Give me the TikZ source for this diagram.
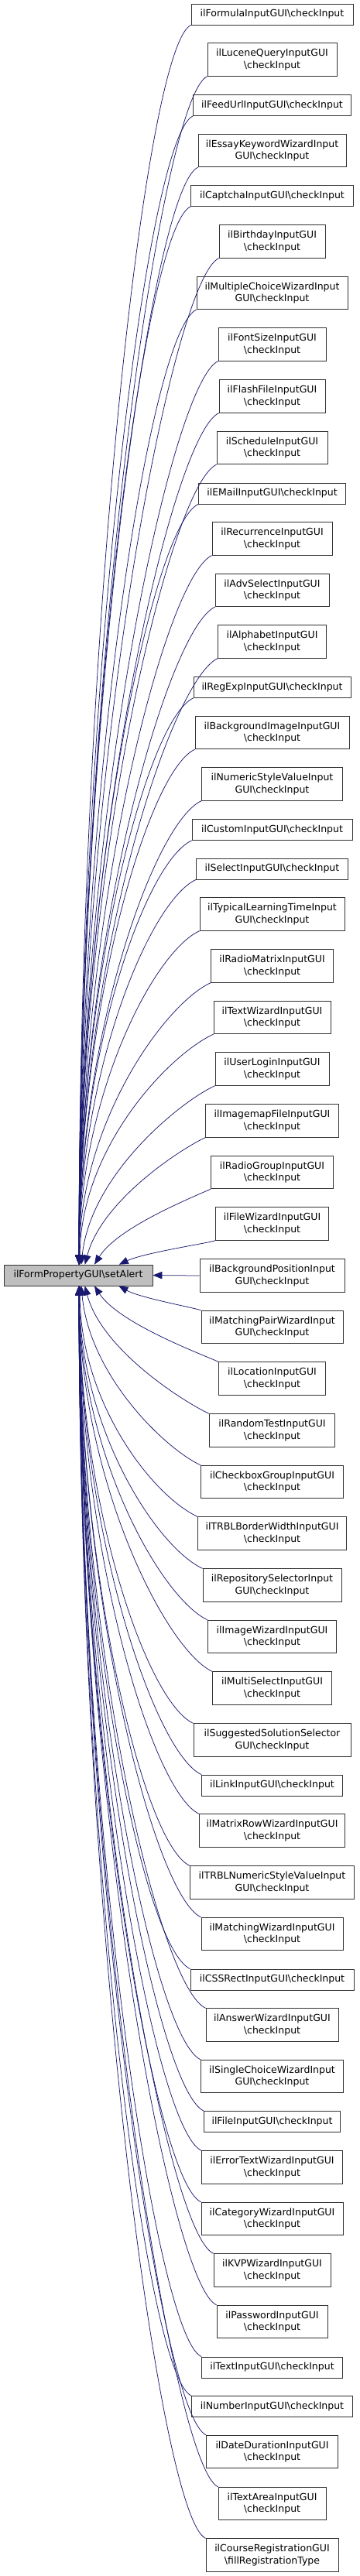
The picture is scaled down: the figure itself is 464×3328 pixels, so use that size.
\documentclass[tikz,border=0pt]{standalone}
\usepackage{fontspec}
\setmainfont{DejaVu Sans}
\usetikzlibrary{arrows.meta,calc}
\definecolor{mblue}{HTML}{191970}
\definecolor{bord}{HTML}{333333}
\definecolor{mainfill}{HTML}{BFBFBF}
\newcommand\bsl{\textbackslash}
\begin{document}
\begin{tikzpicture}[x=1pt,y=1pt,
  box/.style={draw=bord, line width=0.8pt, fill=white, inner sep=0pt, align=center,
    font=\fontsize{12.5}{15.7}\selectfont, minimum height=27pt},
  box2/.style={box, minimum height=42.5pt},
  edge/.style={draw=mblue, line width=0.75pt, -{Triangle[length=12pt,width=9.5pt]}}]
\fill[white] (0,0) rectangle (464,-3328);
\useasboundingbox (0,0) rectangle (464,-3328);

\node[box, fill=mainfill, minimum width=192pt] (main) at (101,-1647.5) {ilFormPropertyGUI\bsl setAlert};

\node[box,  minimum width=209pt] (formula) at (351.5,-18.5) {ilFormulaInputGUI\bsl checkInput};
\node[box2, minimum width=167pt] (lucene) at (351.5,-77) {ilLuceneQueryInputGUI\\\bsl checkInput};
\node[box,  minimum width=204pt] (feedurl) at (351.5,-136) {ilFeedUrlInputGUI\bsl checkInput};
\node[box2, minimum width=191pt] (essay) at (351.5,-194.5) {ilEssayKeywordWizardInput\\GUI\bsl checkInput};
\node[box,  minimum width=210pt] (captcha) at (351.5,-253) {ilCaptchaInputGUI\bsl checkInput};
\node[box2, minimum width=137pt] (birthday) at (351.5,-312) {ilBirthdayInputGUI\\\bsl checkInput};
\node[box2, minimum width=195pt] (mcwizard) at (351.5,-378.5) {ilMultipleChoiceWizardInput\\GUI\bsl checkInput};
\node[box2, minimum width=139pt] (fontsize) at (351.5,-445) {ilFontSizeInputGUI\\\bsl checkInput};
\node[box2, minimum width=137pt] (flash) at (351.5,-512) {ilFlashFileInputGUI\\\bsl checkInput};
\node[box2, minimum width=143pt] (schedule) at (351.5,-578.5) {ilScheduleInputGUI\\\bsl checkInput};
\node[box,  minimum width=190pt] (email) at (351.5,-637.5) {ilEMailInputGUI\bsl checkInput};
\node[box2, minimum width=155pt] (recurrence) at (351.5,-696) {ilRecurrenceInputGUI\\\bsl checkInput};
\node[box2, minimum width=147pt] (advselect) at (351.5,-762.5) {ilAdvSelectInputGUI\\\bsl checkInput};
\node[box2, minimum width=140pt] (alphabet) at (351.5,-829) {ilAlphabetInputGUI\\\bsl checkInput};
\node[box,  minimum width=203pt] (regexp) at (351.5,-888) {ilRegExpInputGUI\bsl checkInput};
\node[box2, minimum width=199pt] (bgimage) at (351.5,-946.5) {ilBackgroundImageInputGUI\\\bsl checkInput};
\node[box2, minimum width=182pt] (numstyle) at (351.5,-1013) {ilNumericStyleValueInput\\GUI\bsl checkInput};
\node[box,  minimum width=207pt] (custom) at (351.5,-1072) {ilCustomInputGUI\bsl checkInput};
\node[box,  minimum width=196pt] (select) at (351.5,-1122.5) {ilSelectInputGUI\bsl checkInput};
\node[box2, minimum width=187pt] (typical) at (351.5,-1181) {ilTypicalLearningTimeInput\\GUI\bsl checkInput};
\node[box2, minimum width=158pt] (radiomatrix) at (351.5,-1248) {ilRadioMatrixInputGUI\\\bsl checkInput};
\node[box2, minimum width=151pt] (textwizard) at (351.5,-1314.5) {ilTextWizardInputGUI\\\bsl checkInput};
\node[box2, minimum width=147pt] (userlogin) at (351.5,-1381) {ilUserLoginInputGUI\\\bsl checkInput};
\node[box2, minimum width=172pt] (imagemap) at (351.5,-1448) {ilImagemapFileInputGUI\\\bsl checkInput};
\node[box2, minimum width=158pt] (radiogroup) at (351.5,-1514.5) {ilRadioGroupInputGUI\\\bsl checkInput};
\node[box2, minimum width=146pt] (filewizard) at (351.5,-1581) {ilFileWizardInputGUI\\\bsl checkInput};
\node[box2, minimum width=187pt] (bgpos) at (351.5,-1648) {ilBackgroundPositionInput\\GUI\bsl checkInput};
\node[box2, minimum width=183pt] (matchpair) at (351.5,-1714.5) {ilMatchingPairWizardInput\\GUI\bsl checkInput};
\node[box2, minimum width=138pt] (location) at (351.5,-1781) {ilLocationInputGUI\\\bsl checkInput};
\node[box2, minimum width=162pt] (randomtest) at (351.5,-1848) {ilRandomTestInputGUI\\\bsl checkInput};
\node[box2, minimum width=184pt] (checkbox) at (351.5,-1914.5) {ilCheckboxGroupInputGUI\\\bsl checkInput};
\node[box2, minimum width=192pt] (trblborder) at (351.5,-1981) {ilTRBLBorderWidthInputGUI\\\bsl checkInput};
\node[box2, minimum width=179pt] (repsel) at (351.5,-2048) {ilRepositorySelectorInput\\GUI\bsl checkInput};
\node[box2, minimum width=166pt] (imagewizard) at (351.5,-2114.5) {ilImageWizardInputGUI\\\bsl checkInput};
\node[box2, minimum width=154pt] (multiselect) at (351.5,-2181) {ilMultiSelectInputGUI\\\bsl checkInput};
\node[box2, minimum width=203pt] (suggested) at (351.5,-2248) {ilSuggestedSolutionSelector\\GUI\bsl checkInput};
\node[box,  minimum width=182pt] (link) at (351.5,-2306.5) {ilLinkInputGUI\bsl checkInput};
\node[box2, minimum width=188pt] (matrixrow) at (351.5,-2365) {ilMatrixRowWizardInputGUI\\\bsl checkInput};
\node[box2, minimum width=212pt] (trblnum) at (351.5,-2432) {ilTRBLNumericStyleValueInput\\GUI\bsl checkInput};
\node[box2, minimum width=183pt] (matchwizard) at (351.5,-2498.5) {ilMatchingWizardInputGUI\\\bsl checkInput};
\node[box,  minimum width=211pt] (cssrect) at (351.5,-2557.5) {ilCSSRectInputGUI\bsl checkInput};
\node[box2, minimum width=171pt] (answer) at (351.5,-2616) {ilAnswerWizardInputGUI\\\bsl checkInput};
\node[box2, minimum width=184pt] (singlechoice) at (351.5,-2682.5) {ilSingleChoiceWizardInput\\GUI\bsl checkInput};
\node[box,  minimum width=176pt] (fileinput) at (351.5,-2741) {ilFileInputGUI\bsl checkInput};
\node[box2, minimum width=182pt] (errortext) at (351.5,-2800) {ilErrorTextWizardInputGUI\\\bsl checkInput};
\node[box2, minimum width=183pt] (category) at (351.5,-2866.5) {ilCategoryWizardInputGUI\\\bsl checkInput};
\node[box2, minimum width=151pt] (kvp) at (351.5,-2933) {ilKVPWizardInputGUI\\\bsl checkInput};
\node[box2, minimum width=143pt] (password) at (351.5,-2999.5) {ilPasswordInputGUI\\\bsl checkInput};
\node[box,  minimum width=182pt] (textinput) at (351.5,-3058.5) {ilTextInputGUI\bsl checkInput};
\node[box,  minimum width=208pt] (number) at (351.5,-3109) {ilNumberInputGUI\bsl checkInput};
\node[box2, minimum width=170pt] (dateduration) at (351.5,-3167.5) {ilDateDurationInputGUI\\\bsl checkInput};
\node[box2, minimum width=139pt] (textarea) at (351.5,-3234.5) {ilTextAreaInputGUI\\\bsl checkInput};
\node[box2, minimum width=171pt] (course) at (351.5,-3301) {ilCourseRegistrationGUI\\\bsl fillRegistrationType};

% edges from the callers above
\foreach \nm in {formula,lucene,feedurl,essay,captcha,birthday,mcwizard,fontsize,flash,schedule,email,recurrence,advselect,alphabet,regexp,bgimage,numstyle,custom,select,typical,radiomatrix,textwizard,userlogin,imagemap,radiogroup,filewizard}{
  \path (\nm.south west); \pgfgetlastxy{\sxx}{\syy}
  \path (main.north); \pgfgetlastxy{\txx}{\tyy}
  \pgfmathsetmacro\edd{\syy-\tyy}
  \pgfmathsetmacro\eff{min(1,\edd/300)}
  \pgfmathsetmacro\edx{1+51*exp(-min(10,(\edd-32)/70))}
  \pgfmathsetmacro\ecx{0.3*(1-\eff)*(\sxx-\txx-\edx)}
  \draw[edge] (\nm.south west) .. controls ($(\nm.south west)+({-60*\eff},{-28*\eff})$) and ($(main.north)+({\edx+\ecx},{0.5*\edd})$) .. ($(main.north)+(\edx,0)$);
}
% edges from the callers below
\foreach \nm in {matchpair,location,randomtest,checkbox,trblborder,repsel,imagewizard,multiselect,suggested,link,matrixrow,trblnum,matchwizard,cssrect,answer,singlechoice,fileinput,errortext,category,kvp,password,textinput,number,dateduration,textarea,course}{
  \path (\nm.north west); \pgfgetlastxy{\sxx}{\syy}
  \path (main.south); \pgfgetlastxy{\txx}{\tyy}
  \pgfmathsetmacro\edd{\tyy-\syy}
  \pgfmathsetmacro\eff{min(1,\edd/300)}
  \pgfmathsetmacro\edx{1+51*exp(-min(10,(\edd-32)/70))}
  \pgfmathsetmacro\ecx{0.3*(1-\eff)*(\sxx-\txx-\edx)}
  \draw[edge] (\nm.north west) .. controls ($(\nm.north west)+({-60*\eff},{28*\eff})$) and ($(main.south)+({\edx+\ecx},{-0.5*\edd})$) .. ($(main.south)+(\edx,0)$);
}
\draw[edge] (bgpos.west) -- (main.east);
\end{tikzpicture}
\end{document}
